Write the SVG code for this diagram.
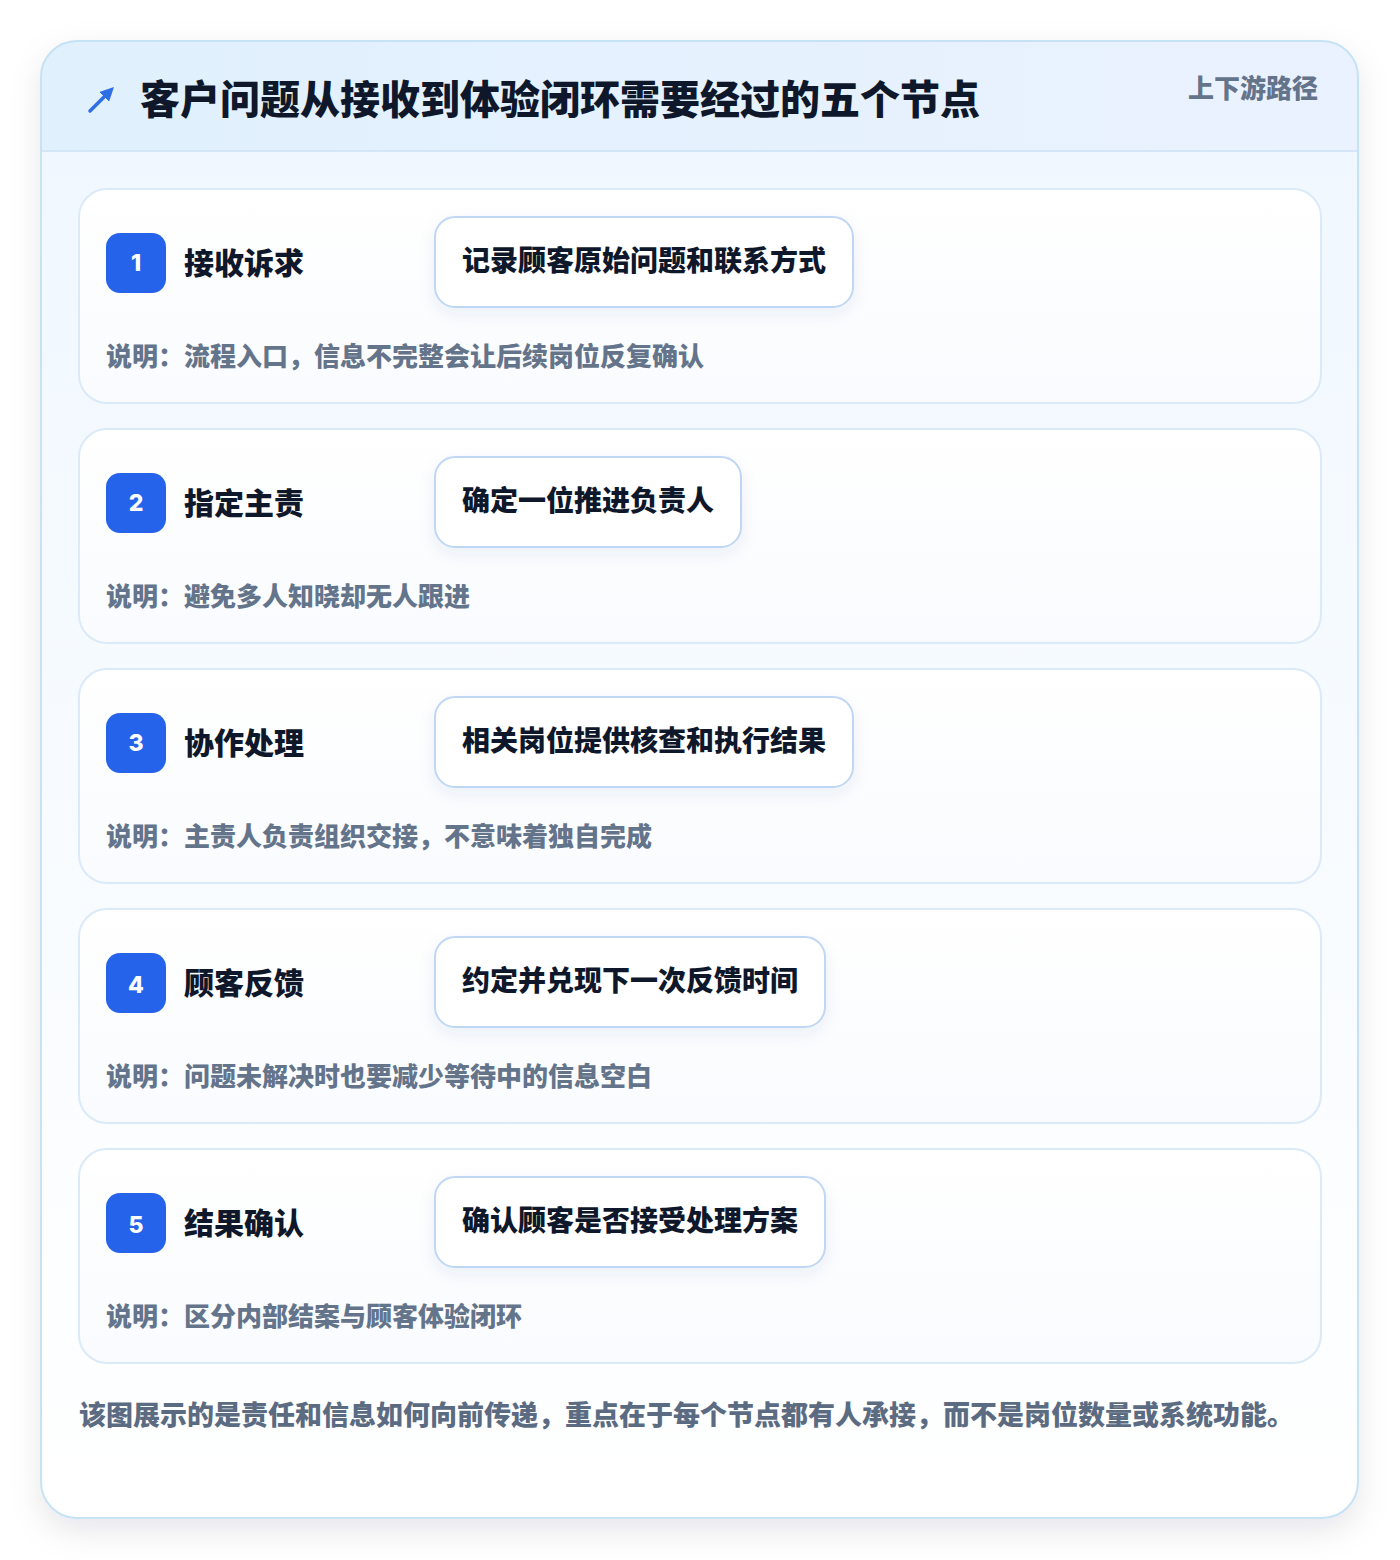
<svg xmlns="http://www.w3.org/2000/svg" width="1400" height="1560" viewBox="0 0 1400 1560">
<defs>
<linearGradient id="bodyG" x1="0" y1="0" x2="0" y2="1"><stop offset="0" stop-color="#eff7ff"/><stop offset="1" stop-color="#ffffff"/></linearGradient>
<linearGradient id="headG" x1="0" y1="0" x2="1" y2="0"><stop offset="0" stop-color="#e0f0fd"/><stop offset="1" stop-color="#ebf2ff"/></linearGradient>
<linearGradient id="rowG" x1="0" y1="0" x2="0" y2="1"><stop offset="0" stop-color="#ffffff"/><stop offset="1" stop-color="#f9fbfe"/></linearGradient>
<filter id="sh" x="-10%" y="-10%" width="120%" height="120%"><feDropShadow dx="0" dy="12" stdDeviation="16" flood-color="#0f172a" flood-opacity="0.10"/></filter>
<filter id="sh2" x="-10%" y="-20%" width="120%" height="150%"><feDropShadow dx="0" dy="6" stdDeviation="8" flood-color="#1e3a8a" flood-opacity="0.07"/></filter>
<clipPath id="cardClip"><rect x="41" y="41" width="1317" height="1477" rx="36"/></clipPath>
<marker id="ah" viewBox="0 0 10 10" refX="6" refY="5" markerWidth="4" markerHeight="4" orient="auto"><path d="M0,0 L10,5 L0,10 z" fill="#2f6fe6"/></marker>
</defs>
<style>
text{font-family:"Noto Sans CJK SC","Noto Sans",sans-serif;font-weight:800}
.title{font-size:40px;fill:#0f172a;font-weight:900}
.tag{font-size:26px;fill:#64748b}
.row{fill:url(#rowG);stroke:#dbeaf8;stroke-width:2}
.badge{fill:#2563eb}
.num{font-family:Inter,"Noto Sans",sans-serif;font-size:23px;fill:#ffffff;font-weight:800}
.lbl{font-size:30px;fill:#0f172a;font-weight:900}
.pill{fill:#ffffff;stroke:#bfd6f4;stroke-width:2}
.ptxt{font-size:28px;fill:#0f172a;font-weight:900}
.note{font-size:26px;fill:#64748b}
.foot{font-size:27px;fill:#5b6b82}
</style>
<rect width="1400" height="1560" fill="#ffffff"/>
<g id="card">
<rect x="41" y="41" width="1317" height="1477" rx="36" fill="url(#bodyG)" filter="url(#sh)"/>
<g clip-path="url(#cardClip)">
<rect x="41" y="41" width="1317" height="110" fill="url(#headG)"/>
<line x1="41" y1="151" x2="1358" y2="151" stroke="#d3e6f7" stroke-width="2"/>
</g>
<rect x="41" y="41" width="1317" height="1477" rx="36" fill="none" stroke="#c6e2f5" stroke-width="2"/>
</g>
<g id="header">
<line x1="90" y1="111" x2="110" y2="91" stroke="#2f6fe6" stroke-width="3.5" stroke-linecap="round" marker-end="url(#ah)"/>
<text class="title" x="140" y="114">客户问题从接收到体验闭环需要经过的五个节点</text>
<text class="tag" x="1318" y="98" text-anchor="end">上下游路径</text>
</g>
<g id="connectors"></g>
<g id="node1">
<rect class="row" x="79" y="189" width="1242" height="214" rx="28"/>
<rect class="badge" x="106" y="233" width="60" height="60" rx="14"/>
<text class="num" x="136" y="271" text-anchor="middle">1</text>
<text class="lbl" x="184" y="274">接收诉求</text>
<rect class="pill" x="435" y="217" width="418" height="90" rx="20" filter="url(#sh2)"/>
<text class="ptxt" x="462" y="271">记录顾客原始问题和联系方式</text>
<text class="note" x="106" y="366">说明：流程入口，信息不完整会让后续岗位反复确认</text>
</g>
<g id="node2">
<rect class="row" x="79" y="429" width="1242" height="214" rx="28"/>
<rect class="badge" x="106" y="473" width="60" height="60" rx="14"/>
<text class="num" x="136" y="511" text-anchor="middle">2</text>
<text class="lbl" x="184" y="514">指定主责</text>
<rect class="pill" x="435" y="457" width="306" height="90" rx="20" filter="url(#sh2)"/>
<text class="ptxt" x="462" y="511">确定一位推进负责人</text>
<text class="note" x="106" y="606">说明：避免多人知晓却无人跟进</text>
</g>
<g id="node3">
<rect class="row" x="79" y="669" width="1242" height="214" rx="28"/>
<rect class="badge" x="106" y="713" width="60" height="60" rx="14"/>
<text class="num" x="136" y="751" text-anchor="middle">3</text>
<text class="lbl" x="184" y="754">协作处理</text>
<rect class="pill" x="435" y="697" width="418" height="90" rx="20" filter="url(#sh2)"/>
<text class="ptxt" x="462" y="751">相关岗位提供核查和执行结果</text>
<text class="note" x="106" y="846">说明：主责人负责组织交接，不意味着独自完成</text>
</g>
<g id="node4">
<rect class="row" x="79" y="909" width="1242" height="214" rx="28"/>
<rect class="badge" x="106" y="953" width="60" height="60" rx="14"/>
<text class="num" x="136" y="993" text-anchor="middle">4</text>
<text class="lbl" x="184" y="994">顾客反馈</text>
<rect class="pill" x="435" y="937" width="390" height="90" rx="20" filter="url(#sh2)"/>
<text class="ptxt" x="462" y="991">约定并兑现下一次反馈时间</text>
<text class="note" x="106" y="1086">说明：问题未解决时也要减少等待中的信息空白</text>
</g>
<g id="node5">
<rect class="row" x="79" y="1149" width="1242" height="214" rx="28"/>
<rect class="badge" x="106" y="1193" width="60" height="60" rx="14"/>
<text class="num" x="136" y="1233" text-anchor="middle">5</text>
<text class="lbl" x="184" y="1234">结果确认</text>
<rect class="pill" x="435" y="1177" width="390" height="90" rx="20" filter="url(#sh2)"/>
<text class="ptxt" x="462" y="1231">确认顾客是否接受处理方案</text>
<text class="note" x="106" y="1326">说明：区分内部结案与顾客体验闭环</text>
</g>
<g id="footer">
<text class="foot" x="79" y="1425">该图展示的是责任和信息如何向前传递，重点在于每个节点都有人承接，而不是岗位数量或系统功能。</text>
</g>
</svg>
